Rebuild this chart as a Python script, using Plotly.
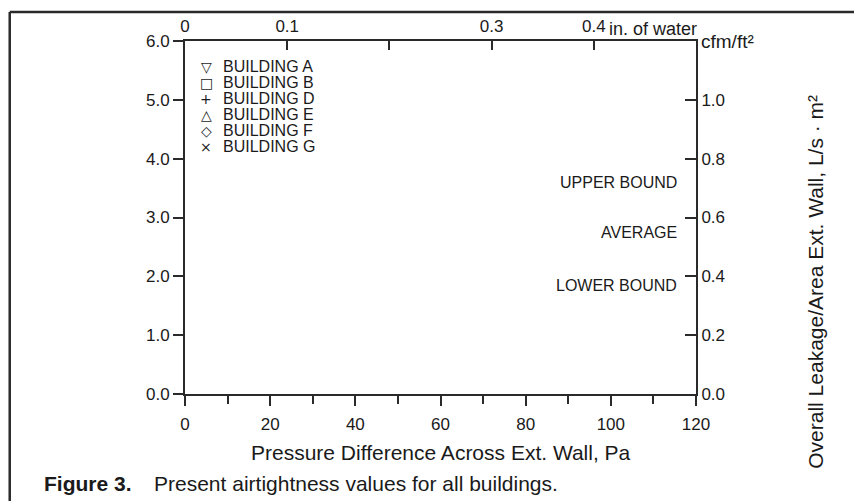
import plotly.graph_objects as go

# ---- data / labels ----
buildings = ["BUILDING A", "BUILDING B", "BUILDING D", "BUILDING E", "BUILDING F", "BUILDING G"]
building_glyphs = ["▽", "□", "+", "△", "◇", "×"]
bound_labels = ["UPPER BOUND", "AVERAGE", "LOWER BOUND"]
bound_levels = [3.59, 2.75, 1.85]          # left-axis units where the labels sit

x_pa_ticks = [0, 20, 40, 60, 80, 100, 120]
x_inwater_ticks = [0, 0.1, 0.2, 0.3, 0.4]
x_inwater_text = ["0", "0.1", "", "0.3", "0.4"]
y_left_ticks = [0, 1, 2, 3, 4, 5, 6]
y_right_ticks = [0, 0.2, 0.4, 0.6, 0.8, 1.0]

FONT = "Liberation Sans, Arial, Helvetica, sans-serif"
INK = "#1a1a1a"
LINE = "#2a2a2a"

fig = go.Figure()
# series (no visible points in the reproduced figure)
for b in buildings:
    fig.add_trace(go.Scatter(x=[], y=[], name=b, mode="markers", showlegend=False))
fig.add_trace(go.Scatter(x=[], y=[], xaxis="x2", yaxis="y2", showlegend=False, hoverinfo="skip"))

axis_common = dict(showline=True, linewidth=2, linecolor=LINE, showgrid=False, zeroline=False,
                   tickwidth=2, tickcolor=LINE, tickfont=dict(family=FONT, size=17, color=INK))

fig.update_layout(
    width=854, height=501,
    margin=dict(l=185, r=158, t=41, b=107),
    paper_bgcolor="white", plot_bgcolor="white",
    font=dict(family=FONT, color=INK),
    showlegend=False,
    xaxis=dict(range=[0, 120], tickvals=x_pa_ticks, ticks="outside", ticklen=10,
               ticklabelstandoff=4,
               minor=dict(dtick=10, ticks="outside", ticklen=8, tickwidth=2, tickcolor=LINE),
               **axis_common),
    yaxis=dict(range=[0, 6], tickvals=y_left_ticks, tickformat=".1f", ticks="outside", ticklen=10,
               **axis_common),
    xaxis2=dict(range=[0, 0.5], overlaying="x", side="top", anchor="y",
                tickvals=x_inwater_ticks, ticktext=x_inwater_text, ticks="inside", ticklen=9,
                **axis_common),
    yaxis2=dict(range=[0, 1.2], overlaying="y", side="right", anchor="x",
                tickvals=y_right_ticks, tickformat=".1f", ticks="inside", ticklen=11,
                **axis_common),
)

ann = []
# legend block (text glyphs + names)
y0, step = 5.56, 0.272
for i, (g, b) in enumerate(zip(building_glyphs, buildings)):
    yy = y0 - i * step
    ann.append(dict(x=5.0, y=yy, xref="x", yref="y", text=g, showarrow=False,
                    xanchor="center", yanchor="middle", font=dict(family="DejaVu Sans", size=14, color=INK)))
    ann.append(dict(x=8.4, y=yy, xref="x", yref="y", text=b, showarrow=False,
                    xanchor="left", yanchor="middle", font=dict(family=FONT, size=16, color=INK)))
# bound labels
for lab, lv in zip(bound_labels, bound_levels):
    ann.append(dict(x=116, y=lv, xref="x", yref="y", text=lab, showarrow=False,
                    xanchor="right", yanchor="middle", font=dict(family=FONT, size=16, color=INK)))
# axis unit labels
ann.append(dict(x=0.4, y=1, xref="x2", yref="paper", text="in. of water", showarrow=False,
                xanchor="left", yanchor="middle", xshift=13, yshift=12,
                font=dict(family=FONT, size=18, color=INK)))
ann.append(dict(x=1, y=1, xref="paper", yref="paper", text="cfm/ft²", showarrow=False,
                xanchor="left", yanchor="middle", xshift=3,
                font=dict(family=FONT, size=19, color=INK)))
# axis titles
ann.append(dict(x=0.5, y=0, xref="paper", yref="paper", text="Pressure Difference Across Ext. Wall, Pa",
                showarrow=False, xanchor="center", yanchor="middle", yshift=-58,
                font=dict(family=FONT, size=21, color=INK)))
ann.append(dict(x=1, y=0.318, xref="paper", yref="paper", text="Overall Leakage/Area Ext. Wall, L/s · m²",
                showarrow=False, xanchor="center", yanchor="middle", textangle=-90, xshift=120,
                font=dict(family=FONT, size=21, color=INK)))
# caption
ann.append(dict(x=0, y=0, xref="paper", yref="paper", text="<b>Figure 3.</b>", showarrow=False,
                xanchor="left", yanchor="middle", xshift=-143, yshift=-89,
                font=dict(family=FONT, size=21, color=INK)))
ann.append(dict(x=0, y=0, xref="paper", yref="paper", text="Present airtightness values for all buildings.",
                showarrow=False, xanchor="left", yanchor="middle", xshift=-33, yshift=-89,
                font=dict(family=FONT, size=21, color=INK)))
fig.update_layout(annotations=ann)

# page frame (top and left rules of the scanned figure box)
fig.add_shape(type="line", xref="paper", yref="paper", x0=-0.343, x1=1.32, y0=1.082, y1=1.082,
              line=dict(color=LINE, width=2.5))
fig.add_shape(type="line", xref="paper", yref="paper", x0=-0.343, x1=-0.343, y0=1.082, y1=-0.32,
              line=dict(color=LINE, width=2.5))

fig.write_html("out.html", config={"displayModeBar": False},
               post_script="document.body.style.margin='0';document.body.style.overflow='hidden';")
